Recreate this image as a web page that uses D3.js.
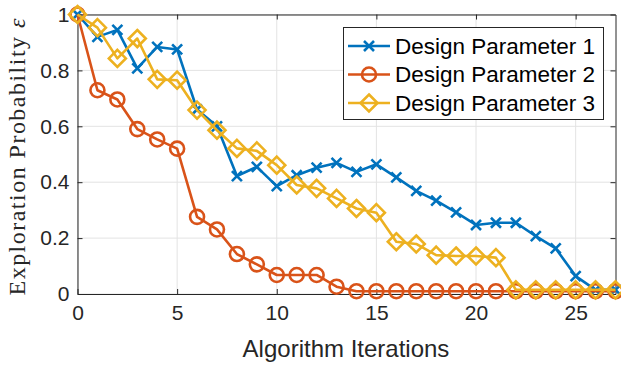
<!DOCTYPE html>
<html>
<head>
<meta charset="utf-8">
<script src="https://cdn.jsdelivr.net/npm/d3@7"></script>
<style>
  html, body { margin: 0; padding: 0; background: #fff; }
  svg { display: block; }
</style>
</head>
<body>
<svg id="chart" width="621" height="367"></svg>
<script>
const iterations = d3.range(0, 28);
const param1 = [1.0, 0.92, 0.945, 0.807, 0.884, 0.875, 0.66, 0.60, 0.422, 0.455, 0.386, 0.425, 0.452, 0.469, 0.437, 0.464, 0.417, 0.369, 0.334, 0.292, 0.247, 0.255, 0.255, 0.207, 0.163, 0.064, 0.015, 0.015];
const param2 = [1.0, 0.729, 0.696, 0.59, 0.553, 0.52, 0.276, 0.231, 0.143, 0.106, 0.068, 0.068, 0.068, 0.026, 0.01, 0.01, 0.01, 0.01, 0.01, 0.01, 0.01, 0.01, 0.01, 0.01, 0.01, 0.01, 0.01, 0.01];
const param3 = [1.0, 0.953, 0.843, 0.914, 0.768, 0.765, 0.658, 0.586, 0.521, 0.512, 0.461, 0.39, 0.378, 0.342, 0.306, 0.291, 0.187, 0.179, 0.139, 0.136, 0.136, 0.13, 0.015, 0.015, 0.015, 0.015, 0.015, 0.015];
const seriesNames = ["Design Parameter 1", "Design Parameter 2", "Design Parameter 3"];
const xTicks = [0, 5, 10, 15, 20, 25];
const yTicks = [0, 0.2, 0.4, 0.6, 0.8, 1];
const xLabel = "Algorithm Iterations";
const yLabel = "Exploration Probability ";

const colors = ["#0072BD", "#D95319", "#EDB120"];
const markers = ["x", "circle", "diamond"];
const seriesData = [param1, param2, param3];

const svg = d3.select("#chart");
const m = { left: 77.5, right: 615.5, top: 14.5, bottom: 294 };
const x = d3.scaleLinear().domain([0, 27]).range([m.left, m.right]);
const y = d3.scaleLinear().domain([0, 1]).range([m.bottom, m.top]);

const axisColor = "#262626";
const font = "'Liberation Sans', Arial, Helvetica, sans-serif";

// grid
const g = svg.append("g");
g.selectAll(".gx").data(xTicks).join("line")
  .attr("x1", d => x(d)).attr("x2", d => x(d))
  .attr("y1", m.top).attr("y2", m.bottom)
  .attr("stroke", "#e3e3e3").attr("stroke-width", 1);
g.selectAll(".gy").data(yTicks).join("line")
  .attr("x1", m.left).attr("x2", m.right)
  .attr("y1", d => y(d)).attr("y2", d => y(d))
  .attr("stroke", "#e3e3e3").attr("stroke-width", 1);

// axes
const tickLen = 5;
const ax = svg.append("g").attr("transform", `translate(0,${m.bottom})`)
  .call(d3.axisBottom(x).tickValues(xTicks).tickSizeInner(-tickLen).tickSizeOuter(0).tickPadding(11).tickFormat(d3.format("d")));
const axTop = svg.append("g").attr("transform", `translate(0,${m.top})`)
  .call(d3.axisTop(x).tickValues(xTicks).tickSizeInner(-tickLen).tickSizeOuter(0).tickFormat(""));
const ay = svg.append("g").attr("transform", `translate(${m.left},0)`)
  .call(d3.axisLeft(y).tickValues(yTicks).tickSizeInner(-tickLen).tickSizeOuter(0).tickPadding(8).tickFormat(d => d === 0 || d === 1 ? d3.format("d")(d) : d3.format(".1f")(d)));
const ayR = svg.append("g").attr("transform", `translate(${m.right},0)`)
  .call(d3.axisRight(y).tickValues(yTicks).tickSizeInner(-tickLen).tickSizeOuter(0).tickFormat(""));
[ax, axTop, ay, ayR].forEach(a => {
  a.select(".domain").attr("stroke", axisColor).attr("stroke-width", 1);
  a.selectAll(".tick line").attr("stroke", axisColor).attr("stroke-width", 1);
  a.selectAll(".tick text").attr("fill", axisColor).style("font-family", font).style("font-size", "21px");
});

function drawMarker(sel, type, color) {
  if (type === "x") {
    const s = 5;
    sel.append("path").attr("d", `M${-s},${-s}L${s},${s}M${-s},${s}L${s},${-s}`)
      .attr("stroke", color).attr("stroke-width", 2.6).attr("fill", "none");
  } else if (type === "circle") {
    sel.append("circle").attr("r", 7).attr("stroke", color).attr("stroke-width", 2.6).attr("fill", "none");
  } else {
    const s = 8.5;
    sel.append("path").attr("d", `M0,${-s}L${s},0L0,${s}L${-s},0Z`)
      .attr("stroke", color).attr("stroke-width", 2.6).attr("fill", "none");
  }
}

const line = d3.line().x((d, i) => x(iterations[i])).y(d => y(d));
seriesData.forEach((vals, k) => {
  const sg = svg.append("g");
  sg.append("path").datum(vals).attr("d", line)
    .attr("fill", "none").attr("stroke", colors[k]).attr("stroke-width", 2.6).attr("stroke-linejoin", "round");
  sg.selectAll(".mk").data(vals).join("g")
    .attr("transform", (d, i) => `translate(${x(iterations[i])},${y(d)})`)
    .each(function () { drawMarker(d3.select(this), markers[k], colors[k]); });
});

// legend
const lg = svg.append("g");
lg.append("rect").attr("x", 343.5).attr("y", 27.5).attr("width", 260).attr("height", 92)
  .attr("fill", "#fff").attr("stroke", axisColor).attr("stroke-width", 1);
seriesNames.forEach((name, k) => {
  const ly = 46 + k * 28.5;
  lg.append("line").attr("x1", 348).attr("x2", 390).attr("y1", ly).attr("y2", ly)
    .attr("stroke", colors[k]).attr("stroke-width", 2.6);
  const mg = lg.append("g").attr("transform", `translate(369,${ly})`);
  drawMarker(mg, markers[k], colors[k]);
  lg.append("text").attr("x", 395).attr("y", ly).attr("dy", "0.35em")
    .style("font-family", font).style("font-size", "22.5px").attr("fill", "#000").text(name);
});

// axis labels
svg.append("text").attr("x", 346).attr("y", 357)
  .attr("text-anchor", "middle").style("font-family", font).style("font-size", "24px").attr("fill", axisColor)
  .text(xLabel);
const yl = svg.append("text").attr("transform", `translate(25,157) rotate(-90)`)
  .attr("text-anchor", "middle").attr("textLength", 277).attr("lengthAdjust", "spacing")
  .style("font-family", "'Liberation Serif', 'Times New Roman', serif").style("font-size", "24px").attr("fill", axisColor);
yl.append("tspan").text(yLabel);
yl.append("tspan").style("font-style", "italic").text("ε");
</script>
</body>
</html>
